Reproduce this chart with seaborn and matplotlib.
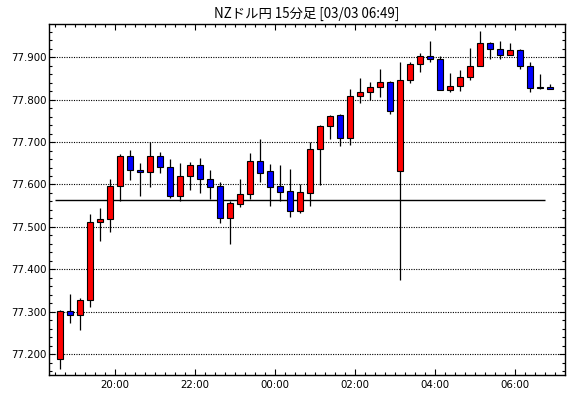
import numpy as np
import pandas as pd
import matplotlib
matplotlib.use("Agg")
import matplotlib.pyplot as plt
import seaborn as sns
from matplotlib.ticker import MultipleLocator, FixedLocator, FuncFormatter

title = "NZドル円 15分足 [03/03 06:49]"
start_time = "2024-03-02 18:30"
opens = [77.188, 77.301, 77.292, 77.327, 77.511, 77.518, 77.596, 77.667, 77.634, 77.629,
         77.667, 77.641, 77.574, 77.620, 77.645, 77.612, 77.596, 77.520, 77.555, 77.577,
         77.655, 77.631, 77.596, 77.585, 77.537, 77.581, 77.683, 77.737, 77.763, 77.709,
         77.808, 77.818, 77.829, 77.841, 77.631, 77.846, 77.884, 77.902, 77.895, 77.822,
         77.832, 77.853, 77.879, 77.933, 77.919, 77.905, 77.916, 77.879, 77.829, 77.829]
highs = [77.305, 77.342, 77.333, 77.531, 77.545, 77.613, 77.672, 77.681, 77.650, 77.699,
         77.677, 77.660, 77.651, 77.653, 77.663, 77.634, 77.606, 77.560, 77.613, 77.675,
         77.708, 77.649, 77.647, 77.637, 77.601, 77.700, 77.741, 77.763, 77.765, 77.824,
         77.850, 77.842, 77.871, 77.843, 77.889, 77.889, 77.909, 77.939, 77.902, 77.863,
         77.870, 77.922, 77.961, 77.935, 77.938, 77.934, 77.919, 77.888, 77.861, 77.836]
lows = [77.166, 77.274, 77.258, 77.312, 77.468, 77.489, 77.562, 77.611, 77.573, 77.595,
        77.627, 77.568, 77.561, 77.586, 77.581, 77.567, 77.510, 77.461, 77.548, 77.566,
        77.606, 77.549, 77.562, 77.524, 77.532, 77.549, 77.598, 77.707, 77.690, 77.694,
        77.791, 77.798, 77.805, 77.766, 77.374, 77.839, 77.865, 77.888, 77.822, 77.818,
        77.820, 77.846, 77.879, 77.895, 77.895, 77.905, 77.872, 77.818, 77.825, 77.825]
closes = [77.303, 77.292, 77.327, 77.511, 77.518, 77.596, 77.667, 77.634, 77.629, 77.667,
          77.641, 77.574, 77.620, 77.645, 77.612, 77.595, 77.520, 77.557, 77.577, 77.655,
          77.628, 77.595, 77.583, 77.537, 77.582, 77.683, 77.737, 77.761, 77.709, 77.808,
          77.818, 77.829, 77.841, 77.773, 77.846, 77.884, 77.902, 77.895, 77.822, 77.832,
          77.853, 77.879, 77.933, 77.919, 77.905, 77.916, 77.879, 77.827, 77.827, 77.825]
ref_level = 77.563
y_ticks = [77.2, 77.3, 77.4, 77.5, 77.6, 77.7, 77.8, 77.9]

sns.set_style("white")
plt.rcParams['font.family'] = ['Noto Sans CJK JP', 'DejaVu Sans']

df = pd.DataFrame({"open": opens, "high": highs, "low": lows, "close": closes})
df["time"] = pd.date_range(start_time, periods=len(df), freq="15min")
df["x"] = np.arange(len(df))
df["up"] = df["close"] >= df["open"]
df["body_lo"] = df[["open", "close"]].min(axis=1)
df["body_h"] = (df["close"] - df["open"]).abs().clip(lower=0.0015)

fig = plt.figure(figsize=(5.7, 3.98), dpi=100)
ax = fig.add_axes([0.0865, 0.0585, 0.9047, 0.8812])

ax.set_ylim(77.152, 77.978)
ax.set_xlim(-1.1, 50.47)

for y in y_ticks:
    ax.axhline(y, color="black", lw=0.8, linestyle=(0, (1, 1.2)), zorder=1)

ax.hlines(ref_level, -0.55, 48.45, color="black", lw=1.0, zorder=2)

ax.vlines(df["x"], df["low"], df["high"], color="black", lw=0.9, zorder=3)
colors = np.where(df["up"], "#ff0000", "#0000ff")
ax.bar(df["x"], df["body_h"], bottom=df["body_lo"], width=0.62, color=colors,
       edgecolor="black", linewidth=0.8, zorder=4)

# x ticks
major_pos = [x - 0.5 for x, t in zip(df["x"], df["time"]) if t.minute == 0 and t.hour % 2 == 0]
major_lab = [t.strftime("%H:%M") for t in df["time"] if t.minute == 0 and t.hour % 2 == 0]
ax.xaxis.set_major_locator(FixedLocator(major_pos))
ax.set_xticklabels(major_lab)
ax.xaxis.set_minor_locator(FixedLocator(list(df["x"] - 0.5) + [len(df) - 0.5]))
ax.yaxis.set_major_locator(FixedLocator(y_ticks))
ax.yaxis.set_major_formatter(FuncFormatter(lambda v, p: f"{v:.3f}"))
ax.yaxis.set_minor_locator(MultipleLocator(0.02))

ax.tick_params(axis="both", which="both", direction="in", top=True, right=True,
               bottom=True, left=True, color="black", width=0.8)
ax.tick_params(axis="both", which="major", length=4.5, labelsize=7.4, labelcolor="black")
ax.tick_params(axis="both", which="minor", length=2)
ax.tick_params(axis="y", which="major", pad=1.8)
ax.tick_params(axis="x", which="major", pad=4)
for lab in ax.get_xticklabels() + ax.get_yticklabels():
    lab.set_family(["DejaVu Sans"])

for s in ax.spines.values():
    s.set_color("black")
    s.set_linewidth(1.0)

fig.text(0.538, 0.966, title, ha="center", va="center", fontsize=9.6, color="black",
         family=["Noto Sans CJK JP", "DejaVu Sans"])

fig.savefig("out.png", dpi=100, facecolor="white")
